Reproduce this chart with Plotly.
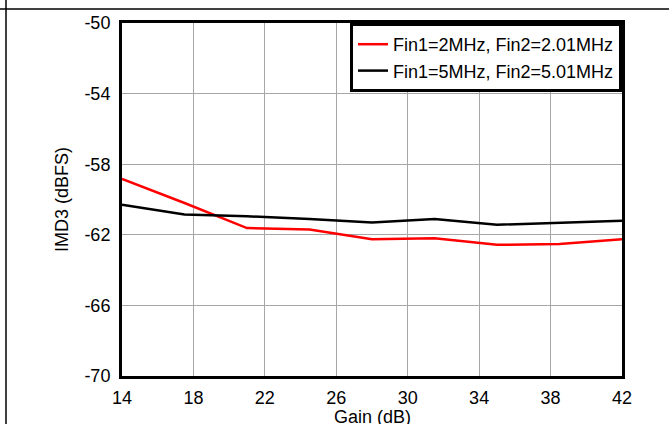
import plotly.graph_objects as go

gain_db = [14, 17.5, 21, 24.5, 28, 31.5, 35, 38.5, 42]
imd3_2mhz = [-58.84, -60.2, -61.62, -61.7, -62.25, -62.2, -62.57, -62.52, -62.25]
imd3_5mhz = [-60.3, -60.85, -60.95, -61.1, -61.3, -61.1, -61.43, -61.3, -61.2]

series_names = ["Fin1=2MHz, Fin2=2.01MHz", "Fin1=5MHz, Fin2=5.01MHz"]
x_ticks = [14, 18, 22, 26, 30, 34, 38, 42]
y_ticks = [-50, -54, -58, -62, -66, -70]
x_title = "Gain (dB)"
y_title = "IMD3 (dBFS)"

fig = go.Figure()
fig.add_trace(go.Scatter(x=gain_db, y=imd3_2mhz, mode="lines", name=series_names[0],
                         line=dict(color="#ff0000", width=2.5)))
fig.add_trace(go.Scatter(x=gain_db, y=imd3_5mhz, mode="lines", name=series_names[1],
                         line=dict(color="#000000", width=2.5)))

font = dict(family="Liberation Sans, Arial, sans-serif", size=18, color="black")

fig.update_layout(
    width=669, height=424,
    margin=dict(l=122, r=47, t=23, b=48),
    paper_bgcolor="white", plot_bgcolor="white",
    font=font,
    showlegend=True,
    legend=dict(x=1, y=1, xanchor="right", yanchor="top",
                bordercolor="black", borderwidth=3, bgcolor="white",
                font=font, tracegroupgap=0, itemwidth=30),
    xaxis=dict(range=[14, 42], tickvals=x_ticks, ticktext=[str(v) for v in x_ticks],
               showgrid=True, gridcolor="#a6a6a6", gridwidth=1,
               showline=True, linecolor="black", linewidth=3, mirror=True,
               ticks="", zeroline=False, automargin=False, ticklabelstandoff=3),
    yaxis=dict(range=[-70, -50], tickvals=y_ticks, ticktext=[str(v) for v in y_ticks],
               showgrid=True, gridcolor="#a6a6a6", gridwidth=1,
               showline=True, linecolor="black", linewidth=3, mirror=True,
               ticks="", zeroline=False, automargin=False, ticklabelstandoff=5,
               title=dict(text=y_title, standoff=12, font=font)),
)

# x-axis title placed just below the tick labels (reference shows it at the very bottom edge)
fig.add_annotation(text=x_title, xref="paper", yref="paper", x=0.5, y=(376 - 416.5) / 353,
                   xanchor="center", yanchor="middle", showarrow=False, font=font)

# outer frame lines of the surrounding figure cell
fig.add_shape(type="line", xref="paper", yref="paper",
              x0=(6 - 122) / 500, x1=(6 - 122) / 500, y0=-1, y1=1.2,
              line=dict(color="black", width=1.5))
fig.add_shape(type="line", xref="paper", yref="paper",
              x0=-0.3, x1=1.2, y0=1 + (23 - 9) / 353, y1=1 + (23 - 9) / 353,
              line=dict(color="black", width=1.5))

fig.write_html("out.html", config={"displayModeBar": False},
               post_script="document.body.style.margin='0';")
